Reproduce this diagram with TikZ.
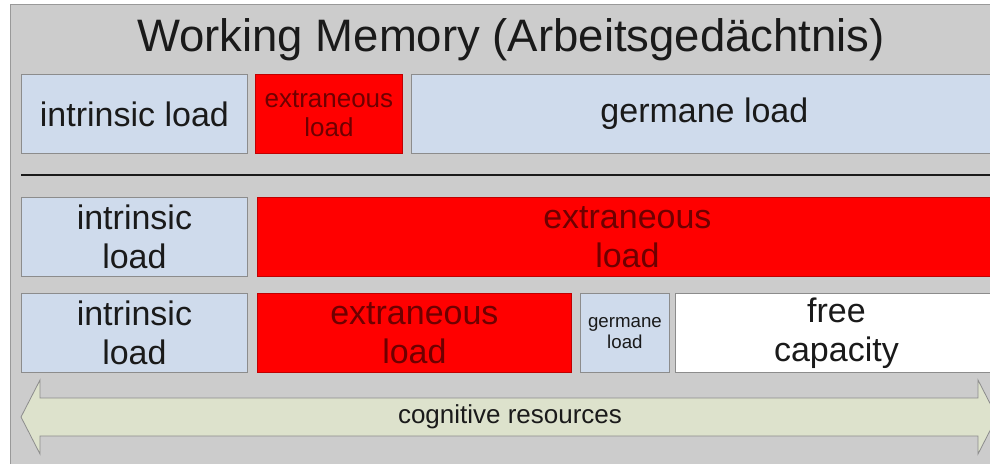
\documentclass[tikz,border=0pt]{standalone}
\usepackage{fontspec}
\setmainfont{Liberation Sans}
\definecolor{panelgray}{HTML}{CCCCCC}
\definecolor{framegray}{HTML}{999999}
\definecolor{loadblue}{HTML}{CFDBEC}
\definecolor{edgegray}{HTML}{8C8C8C}
\definecolor{xred}{HTML}{FF0000}
\definecolor{xedge}{HTML}{C00000}
\definecolor{xtext}{HTML}{6E0000}
\definecolor{resgreen}{HTML}{DDE2CC}
\definecolor{inkblack}{HTML}{1A1A1A}
\tikzset{
  box/.style={anchor=north west,inner sep=0pt,align=center,line width=.8pt,
    minimum height=79pt,text=inkblack},
  load/.style={box,fill=loadblue,draw=edgegray},
  xload/.style={box,fill=xred,draw=xedge,text=xtext},
  freebox/.style={box,fill=white,draw=edgegray},
  big/.style={font=\fontsize{34}{39}\selectfont},
  mid/.style={font=\fontsize{26}{29}\selectfont},
  small/.style={font=\fontsize{18.7}{21}\selectfont}
}
\begin{document}
\begin{tikzpicture}[x=1pt,y=-1pt]
  \useasboundingbox (0,0) rectangle (990,463);
  \clip (0,0) rectangle (990,463);
  \draw[fill=panelgray,draw=framegray,line width=.8pt](10,4)rectangle(1005,475);
  \node[anchor=base,text=inkblack,font=\fontsize{45.5}{50}\selectfont] (title) at (511,51)
    {Working Memory (Arbeitsgedächtnis)};
  % first row
  \node[load,big,minimum width=226pt] (intr1) at (21,74) {intrinsic load};
  \node[xload,mid,minimum width=147pt] (extr1) at (255,74) {extraneous\\load};
  \node[load,big,minimum width=586pt] (germ1) at (411,74) {germane load};
  \draw[line width=2pt,draw=inkblack](21,175)--(1000,175);
  % second row
  \node[load,big,minimum width=226pt] (intr2) at (21,197) {intrinsic\\load};
  \node[xload,big,minimum width=740pt] (extr2) at (257,197) {extraneous\\load};
  % third row
  \node[load,big,minimum width=226pt] (intr3) at (21,293) {intrinsic\\load};
  \node[xload,big,minimum width=314pt] (extr3) at (257,293) {extraneous\\load};
  \node[load,small,minimum width=89pt] (germ3) at (580,293) {germane\\load};
  \node[freebox,big,minimum width=322pt] (free3) at (675,293) {free\\capacity};
  % resources arrow
  \draw[fill=resgreen,draw=edgegray,line width=.8pt]
    (21,417)--(40,380)--(40,398)--(978,398)--(978,380)--(997,417)
    --(978,454)--(978,436)--(40,436)--(40,454)--cycle;
  \node[text=inkblack,font=\fontsize{26}{29}\selectfont] (res) at (510,417) {cognitive resources};
\end{tikzpicture}
\end{document}
